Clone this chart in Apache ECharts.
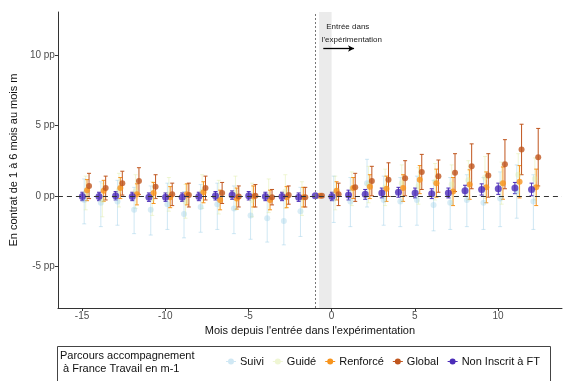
<!DOCTYPE html>
<html><head><meta charset="utf-8">
<script src="https://cdn.jsdelivr.net/npm/echarts@6/dist/echarts.min.js"></script>
<style>html,body{margin:0;padding:0;background:#fff}#c{width:564px;height:381px}</style>
</head><body><div id="c"></div>
<script>
const months = [-15,-14,-13,-12,-11,-10,-9,-8,-7,-6,-5,-4,-3,-2,-1,0,1,2,3,4,5,6,7,8,9,10,11,12];
const xTicks = [-15,-10,-5,0,5,10];
const yTicks = [-5,0,5,10];
const groups = ["Suivi","Guidé","Renforcé","Global","Non Inscrit à FT"];

const suiviVal = [-0.3,-0.5,-0.4,-1.0,-1.0,-0.6,-1.3,-0.8,-0.6,-0.9,-1.4,-1.6,-1.8,-1.1,0,-0.2,-0.4,0.9,-0.3,-0.4,-0.3,-0.65,-0.5,-0.3,-0.5,-0.2,0.3,-0.4];
const suiviLo  = [-2.0,-2.2,-2.1,-2.7,-2.8,-2.4,-3.0,-2.6,-2.4,-2.7,-3.1,-3.3,-3.5,-2.9,0,-1.9,-2.2,-0.8,-2.1,-2.2,-2.1,-2.5,-2.4,-2.2,-2.4,-2.2,-1.6,-2.4];
const suiviHi  = [1.2,1.0,1.1,0.6,0.7,0.9,0.3,0.8,0.9,0.7,0.2,0.0,-0.1,0.6,0,1.4,1.3,2.6,1.4,1.3,1.4,1.1,1.3,1.5,1.3,1.7,2.2,1.5];

const guideVal = [0.2,-0.3,0.4,0.3,-0.2,0.1,-0.4,0.3,-0.1,0.2,-0.3,0.0,0.3,-0.2,0,0.2,0.5,0.8,0.6,0.9,0.7,1.0,0.8,1.1,1.3,0.9,1.5,1.2];
const guideLo  = [-1.0,-1.5,-0.8,-0.9,-1.4,-1.1,-1.6,-0.9,-1.3,-1.0,-1.5,-1.2,-0.9,-1.4,0,-1.0,-0.7,-0.5,-0.7,-0.4,-0.6,-0.3,-0.6,-0.3,-0.2,-0.6,0.0,-0.3];
const guideHi  = [1.4,0.9,1.6,1.5,1.0,1.3,0.8,1.5,1.1,1.4,0.9,1.2,1.5,1.0,0,1.4,1.7,2.1,1.9,2.2,2.0,2.3,2.2,2.5,2.8,2.4,3.0,2.7];

const renfVal = [0.4,0.35,0.55,0.1,0.2,-0.1,0.1,0.25,-0.3,-0.2,-0.05,-0.3,-0.1,-0.1,0,0.35,0.55,0.65,0.5,0.55,1.15,0.9,0.3,0.8,0.6,0.9,1.0,0.6];
const renfLo  = [-0.35,-0.4,-0.2,-0.65,-0.55,-0.85,-0.65,-0.5,-1.0,-0.95,-0.8,-1.0,-0.85,-0.8,0,-0.3,-0.2,-0.2,-0.4,-0.4,0.15,-0.1,-0.7,-0.25,-0.5,-0.25,-0.15,-0.7];
const renfHi  = [1.15,1.1,1.3,0.85,0.95,0.65,0.85,1.0,0.4,0.55,0.7,0.4,0.65,0.6,0,1.0,1.3,1.5,1.4,1.5,2.15,1.9,1.3,1.85,1.7,2.05,2.15,1.9];

const globVal = [0.7,0.55,0.9,1.05,0.65,0.1,0.05,0.55,0.2,-0.05,0.0,-0.1,0.05,-0.1,0,0.1,0.6,1.05,1.15,1.25,1.7,1.4,1.65,2.1,1.45,2.25,3.3,2.75];
const globLo  = [-0.2,-0.3,0.05,0.1,-0.2,-0.7,-0.8,-0.3,-0.55,-0.8,-0.8,-0.65,-0.6,-0.8,0,-0.7,-0.4,0.0,-0.05,0.0,0.45,0.25,0.3,0.5,-0.1,0.5,1.5,0.7];
const globHi  = [1.6,1.4,1.75,2.0,1.5,0.9,0.9,1.4,0.95,0.7,0.8,0.45,0.7,0.6,0,0.9,1.6,2.1,2.35,2.5,2.95,2.55,3.0,3.7,3.0,4.0,5.1,4.8];

const niVal = [-0.05,-0.05,0.0,-0.05,-0.1,-0.1,-0.1,-0.05,0.0,0.05,0.0,-0.05,-0.05,-0.1,0,-0.05,0.05,0.1,0.2,0.25,0.2,0.15,0.2,0.35,0.45,0.5,0.55,0.45];
const niLo  = [-0.35,-0.35,-0.3,-0.35,-0.4,-0.4,-0.4,-0.35,-0.3,-0.25,-0.3,-0.35,-0.35,-0.4,0,-0.35,-0.3,-0.25,-0.15,-0.1,-0.15,-0.2,-0.15,-0.05,0.05,0.1,0.15,0.0];
const niHi  = [0.25,0.25,0.3,0.25,0.2,0.2,0.2,0.25,0.3,0.35,0.3,0.25,0.25,0.2,0,0.25,0.4,0.45,0.55,0.6,0.55,0.5,0.55,0.75,0.85,0.9,0.95,0.9];

const seriesDefs = [
  {name:"Suivi", val:suiviVal, lo:suiviLo, hi:suiviHi, off:0.13, color:"rgba(150,205,230,0.45)", size:6},
  {name:"Guidé", val:guideVal, lo:guideLo, hi:guideHi, off:0.22, color:"rgba(220,235,160,0.45)", size:6},
  {name:"Renforcé", val:renfVal, lo:renfLo, hi:renfHi, off:0.30, color:"#f7941d", size:6},
  {name:"Global", val:globVal, lo:globLo, hi:globHi, off:0.42, color:"#c0561e", size:6},
  {name:"Non Inscrit à FT", val:niVal, lo:niLo, hi:niHi, off:0.02, color:"#4b2cb8", size:7}
];

const series = [];
series.push({
  type:'scatter', data:[], silent:true,
  markArea:{silent:true, itemStyle:{color:'#ebebeb'}, data:[[{xAxis:-0.75},{xAxis:0}]]},
  markLine:{silent:true, symbol:['none','none'], label:{show:false},
    data:[
      {xAxis:-1, lineStyle:{type:[2,2], color:'#777', width:1}},
      {yAxis:0, lineStyle:{type:[5,4], color:'#333', width:1}}
    ]}
});
seriesDefs.forEach(d => {
  const ebData = months.map((m,i)=>[m+d.off, d.lo[i], d.hi[i]]);
  series.push({
    type:'custom', name:d.name, itemStyle:{color:d.color}, silent:true,
    data: ebData,
    encode:{x:0, y:[1,2]},
    renderItem:function(params, api){
      const x=api.value(0), lo=api.value(1), hi=api.value(2);
      if (lo===hi) return null;
      const t=api.coord([x,hi]), b=api.coord([x,lo]);
      const w=2;
      const st={stroke:d.color, lineWidth:1};
      return {type:'group', children:[
        {type:'line', shape:{x1:t[0],y1:t[1],x2:b[0],y2:b[1]}, style:st},
        {type:'line', shape:{x1:t[0]-w,y1:t[1],x2:t[0]+w,y2:t[1]}, style:st},
        {type:'line', shape:{x1:b[0]-w,y1:b[1],x2:b[0]+w,y2:b[1]}, style:st}
      ]};
    }
  });
});
seriesDefs.forEach(d => {
  series.push({
    type:'scatter', name:d.name, symbol:'circle', symbolSize:d.size,
    itemStyle:{color:d.color}, silent:true,
    data: months.map((m,i)=>[m+d.off, d.val[i]])
  });
});
series.push({
  type:'scatter', data:[], silent:true,
  markLine:{silent:true, symbol:['none','arrow'], symbolSize:[5,6], label:{show:false},
    lineStyle:{color:'#000', width:1.3, type:'solid'},
    data:[[{coord:[-0.5,10.5]},{coord:[1.35,10.5]}]]},
  markPoint:{silent:true, symbol:'rect', symbolSize:1, itemStyle:{color:'transparent'},
    label:{show:true, position:'right', distance:0, color:'#222', fontSize:8, lineHeight:13,
      fontFamily:'Liberation Sans, Arial, sans-serif', formatter:'  Entrée dans\nl\'expérimentation'},
    data:[{coord:[-0.62,11.55]}]}
});

const chart = echarts.init(document.getElementById('c'), null, {renderer:'canvas'});
chart.setOption({
  animation:false,
  textStyle:{fontFamily:'Liberation Sans, Arial, sans-serif'},
  grid:{left:57, right:2, top:12, bottom:73, containLabel:false},
  xAxis:{
    type:'value', min:-16.45, max:13.85,
    name:"Mois depuis l'entrée dans l'expérimentation", nameLocation:'middle', nameGap:12,
    nameTextStyle:{color:'#111', fontSize:11},
    axisLine:{show:true, onZero:false, lineStyle:{color:'#333', width:1}},
    axisTick:{show:true, length:3, customValues:xTicks, lineStyle:{color:'#333'}},
    axisLabel:{customValues:xTicks, color:'#4d4d4d', fontSize:10, margin:3},
    splitLine:{show:false}
  },
  yAxis:{
    type:'value', min:-8, max:13.1,
    name:'En contrat de 1 à 6 mois au mois m', nameLocation:'middle', nameGap:37, nameRotate:90,
    nameTextStyle:{color:'#111', fontSize:11},
    axisLine:{show:true, onZero:false, lineStyle:{color:'#333', width:1}},
    axisTick:{show:true, length:3, customValues:yTicks, lineStyle:{color:'#333'}},
    axisLabel:{customValues:yTicks, color:'#4d4d4d', fontSize:10, margin:3, formatter:'{value} pp'},
    splitLine:{show:false}
  },
  legend:{
    data:groups, left:226, top:356, width:330, orient:'horizontal', itemGap:9, padding:0,
    itemWidth:10, itemHeight:6, icon:'path://M0,5 L10,5 L10,6 L0,6 Z M5,2.5 A3,3 0 1,1 4.99,2.5 Z',
    textStyle:{color:'#111', fontSize:11, padding:[0,0,0,-1]}, selectedMode:false
  },
  graphic:[
    {type:'rect', left:55, top:344, shape:{width:493, height:35}, style:{fill:'none', stroke:'#444', lineWidth:1}, silent:true},
    {type:'text', left:60, top:349, style:{text:'Parcours accompagnement\n à France Travail en m-1', fill:'#111', fontSize:11, lineHeight:13, fontFamily:'Liberation Sans, Arial, sans-serif'}, silent:true}
  ],
  series:series
});
</script></body></html>
